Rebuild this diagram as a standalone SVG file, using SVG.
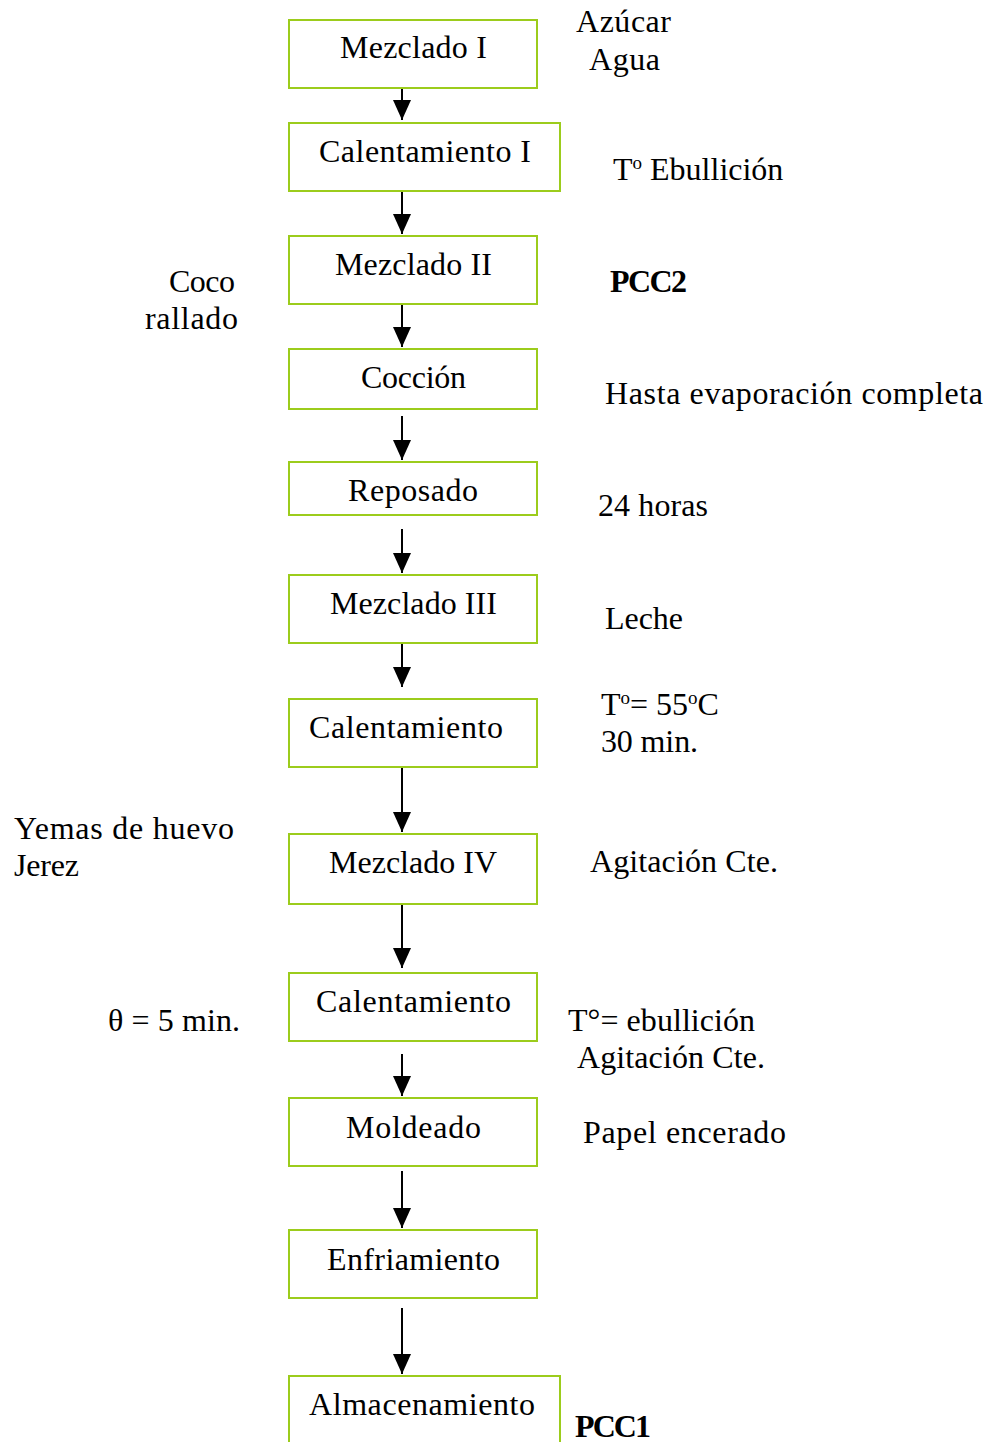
<svg xmlns="http://www.w3.org/2000/svg" width="989" height="1442" viewBox="0 0 989 1442">
<style>
.box{fill:#fff;stroke:#9ccc1c;stroke-width:2}
.t{font-family:"Liberation Serif","DejaVu Serif",serif;font-size:32px;fill:#000}
.n{text-anchor:middle}
.b{font-weight:bold}
.c{stroke:#000;stroke-width:2;fill:none;marker-end:url(#ah)}
</style>
<defs>
<marker id="ah" markerWidth="20" markerHeight="18" refX="20" refY="9" orient="auto" markerUnits="userSpaceOnUse" viewBox="0 0 20 18">
<path d="M0,0 L20,9 L0,18 Z" fill="#000"/>
</marker>
</defs>
<rect width="989" height="1442" fill="#fff"/>
<g id="connectors">
<line class="c" x1="402" y1="88" x2="402" y2="120"/>
<line class="c" x1="402" y1="191" x2="402" y2="234"/>
<line class="c" x1="402" y1="304" x2="402" y2="347"/>
<line class="c" x1="402" y1="416" x2="402" y2="460"/>
<line class="c" x1="402" y1="529" x2="402" y2="573"/>
<line class="c" x1="402" y1="643" x2="402" y2="687"/>
<line class="c" x1="402" y1="767" x2="402" y2="832"/>
<line class="c" x1="402" y1="902" x2="402" y2="968"/>
<line class="c" x1="402" y1="1054" x2="402" y2="1096"/>
<line class="c" x1="402" y1="1171" x2="402" y2="1228"/>
<line class="c" x1="402" y1="1308" x2="402" y2="1374"/>
</g>
<g id="n1"><rect class="box" x="289" y="20" width="248" height="68"/><text class="t n" x="413.5" y="58" textLength="147">Mezclado I</text></g>
<g id="n2"><rect class="box" x="289" y="123" width="271" height="68"/><text class="t n" x="425" y="162" textLength="212">Calentamiento I</text></g>
<g id="n3"><rect class="box" x="289" y="236" width="248" height="68"/><text class="t n" x="413.5" y="275" textLength="157">Mezclado II</text></g>
<g id="n4"><rect class="box" x="289" y="349" width="248" height="60"/><text class="t n" x="413.5" y="388" textLength="105">Cocción</text></g>
<g id="n5"><rect class="box" x="289" y="462" width="248" height="53"/><text class="t n" x="413" y="501" textLength="130">Reposado</text></g>
<g id="n6"><rect class="box" x="289" y="575" width="248" height="68"/><text class="t n" x="413.5" y="614" textLength="167">Mezclado III</text></g>
<g id="n7"><rect class="box" x="289" y="699" width="248" height="68"/><text class="t n" x="406" y="738" textLength="194">Calentamiento</text></g>
<g id="n8"><rect class="box" x="289" y="834" width="248" height="70"/><text class="t n" x="413" y="873" textLength="168">Mezclado IV</text></g>
<g id="n9"><rect class="box" x="289" y="973" width="248" height="68"/><text class="t n" x="413.5" y="1012" textLength="195">Calentamiento</text></g>
<g id="n10"><rect class="box" x="289" y="1098" width="248" height="68"/><text class="t n" x="413.5" y="1138" textLength="135">Moldeado</text></g>
<g id="n11"><rect class="box" x="289" y="1230" width="248" height="68"/><text class="t n" x="413.5" y="1270" textLength="173">Enfriamiento</text></g>
<g id="n12"><rect class="box" x="289" y="1376" width="271" height="80"/><text class="t n" x="422" y="1415" textLength="226">Almacenamiento</text></g>
<g id="labels">
<text class="t" x="576" y="32" textLength="95">Azúcar</text>
<text class="t" x="589" y="70" textLength="71">Agua</text>
<text class="t" x="613" y="180">T<tspan dy="-11" font-size="19">o</tspan><tspan dy="11"> Ebullición</tspan></text>
<text class="t b" x="610" y="292" textLength="77">PCC2</text>
<text class="t" x="169" y="292" textLength="66">Coco</text>
<text class="t" x="145" y="329" textLength="93">rallado</text>
<text class="t" x="605" y="404" textLength="378">Hasta evaporación completa</text>
<text class="t" x="598" y="516" textLength="110">24 horas</text>
<text class="t" x="605" y="629" textLength="78">Leche</text>
<text class="t" x="601" y="715">T<tspan dy="-11" font-size="19">o</tspan><tspan dy="11">= 55</tspan><tspan dy="-11" font-size="19">o</tspan><tspan dy="11">C</tspan></text>
<text class="t" x="601" y="752" textLength="97">30 min.</text>
<text class="t" x="14" y="839" textLength="220">Yemas de huevo</text>
<text class="t" x="14" y="876" textLength="65">Jerez</text>
<text class="t" x="590" y="872" textLength="188">Agitación Cte.</text>
<text class="t" x="108" y="1031" textLength="132">θ = 5 min.</text>
<text class="t" x="568" y="1031" textLength="187">T°= ebullición</text>
<text class="t" x="577" y="1068" textLength="188">Agitación Cte.</text>
<text class="t" x="583" y="1143" textLength="203">Papel encerado</text>
<text class="t b" x="575" y="1437" textLength="76">PCC1</text>
</g>
</svg>
